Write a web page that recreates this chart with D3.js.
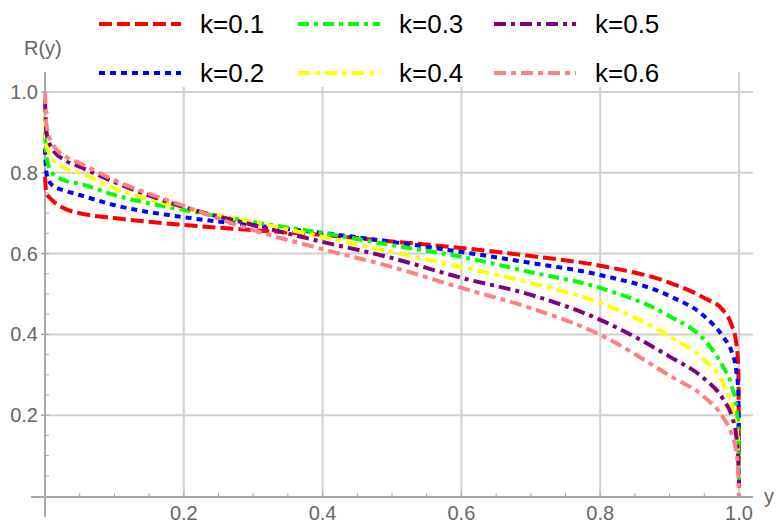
<!DOCTYPE html>
<html lang="en">
<head>
<meta charset="utf-8">
<title>R(y) curves</title>
<script src="https://d3js.org/d3.v7.min.js"></script>
<style>
  body { margin: 0; background: #fff; }
  text { font-family: "Liberation Sans", Arial, sans-serif; }
</style>
</head>
<body>
<div id="chart"></div>
<script>
// sample positions along y
const ys = [0, 0.002, 0.01, 0.03, 0.05, 0.1, 0.2, 0.3, 0.4, 0.5, 0.6, 0.7, 0.8, 0.9, 0.95, 0.977, 0.99, 0.996, 0.999, 1.0];

const k01 = [0.79, 0.75, 0.733, 0.71, 0.70, 0.688, 0.671, 0.658, 0.646, 0.630, 0.614, 0.594, 0.570, 0.528, 0.49, 0.46, 0.42, 0.38, 0.32, 0.04];
const k02 = [0.86, 0.80, 0.77, 0.755, 0.745, 0.72, 0.69, 0.67, 0.651, 0.629, 0.604, 0.577, 0.547, 0.495, 0.445, 0.394, 0.354, 0.312, 0.26, 0.03];
const k03 = [0.90, 0.84, 0.80, 0.78, 0.773, 0.745, 0.708, 0.678, 0.651, 0.621, 0.592, 0.554, 0.515, 0.445, 0.386, 0.32, 0.27, 0.22, 0.16, 0.02];
const k04 = [0.94, 0.87, 0.837, 0.81, 0.80, 0.762, 0.713, 0.678, 0.641, 0.604, 0.567, 0.527, 0.478, 0.395, 0.337, 0.28, 0.22, 0.17, 0.12, 0.02];
const k05 = [0.98, 0.90, 0.861, 0.83, 0.815, 0.777, 0.715, 0.671, 0.629, 0.589, 0.540, 0.498, 0.436, 0.345, 0.29, 0.24, 0.195, 0.15, 0.09, 0.02];
const k06 = [1.0, 0.92, 0.874, 0.84, 0.824, 0.782, 0.718, 0.658, 0.611, 0.567, 0.515, 0.465, 0.399, 0.298, 0.245, 0.195, 0.15, 0.11, 0.06, 0.0];

const labels = ["k=0.1", "k=0.2", "k=0.3", "k=0.4", "k=0.5", "k=0.6"];
const seriesValues = [k01, k02, k03, k04, k05, k06];
const colors = ["#ff0000", "#0000ff", "#00ff00", "#ffff00", "#800080", "#ff8080"];
const dashes = ["13,5", "6,5", "11,5,4,5", "12,5,5,5", "12,5,4,5", "12,5,5,5"];

const xTicks = [0.2, 0.4, 0.6, 0.8, 1.0];
const yTicks = [0.2, 0.4, 0.6, 0.8, 1.0];

const W = 777, H = 524;
const svg = d3.select("#chart").append("svg")
  .attr("width", W).attr("height", H);

const x = d3.scaleLinear().domain([0, 1]).range([45, 739]);
const y = d3.scaleLinear().domain([0, 1]).range([496, 92]);

const gridColor = "#cfcfcf", axisColor = "#a8a8a8", labelColor = "#666";

// grid lines
svg.append("g").selectAll("line")
  .data(xTicks).join("line")
    .attr("x1", d => x(d)).attr("x2", d => x(d))
    .attr("y1", 72).attr("y2", 497)
    .attr("stroke", gridColor).attr("stroke-width", 2);
svg.append("g").selectAll("line")
  .data(yTicks).join("line")
    .attr("x1", x(0)).attr("x2", 753)
    .attr("y1", d => y(d)).attr("y2", d => y(d))
    .attr("stroke", gridColor).attr("stroke-width", 2);

// axes
svg.append("line")
  .attr("x1", 31).attr("x2", 753).attr("y1", 497).attr("y2", 497)
  .attr("stroke", axisColor).attr("stroke-width", 2);
svg.append("line")
  .attr("x1", 45).attr("x2", 45).attr("y1", 72).attr("y2", 517)
  .attr("stroke", axisColor).attr("stroke-width", 2);

// minor ticks
const minor = d3.range(1, 20).map(i => i * 0.05);
svg.append("g").selectAll("line")
  .data(minor).join("line")
    .attr("x1", d => x(d)).attr("x2", d => x(d))
    .attr("y1", 493).attr("y2", 497)
    .attr("stroke", axisColor).attr("stroke-width", 1);
svg.append("g").selectAll("line")
  .data(minor).join("line")
    .attr("x1", 45).attr("x2", 49)
    .attr("y1", d => y(d)).attr("y2", d => y(d))
    .attr("stroke", axisColor).attr("stroke-width", 1);
svg.append("g").selectAll("line")
  .data(yTicks).join("line")
    .attr("x1", 41).attr("x2", 45)
    .attr("y1", d => y(d)).attr("y2", d => y(d))
    .attr("stroke", axisColor).attr("stroke-width", 1.5);

// tick labels
svg.append("g").selectAll("text")
  .data(yTicks).join("text")
    .attr("x", 38).attr("y", d => y(d) + 7)
    .attr("text-anchor", "end")
    .attr("font-size", 20).attr("fill", labelColor)
    .text(d => d.toFixed(1));
svg.append("g").selectAll("text")
  .data(xTicks).join("text")
    .attr("x", d => x(d)).attr("y", 520)
    .attr("text-anchor", "middle")
    .attr("font-size", 20).attr("fill", labelColor)
    .text(d => d.toFixed(1));

svg.append("text").attr("x", 24).attr("y", 55)
  .attr("font-size", 20).attr("fill", labelColor).text("R(y)");
svg.append("text").attr("x", 764).attr("y", 503)
  .attr("font-size", 20).attr("fill", labelColor).text("y");

// curves
const line = d3.line()
  .x(d => x(d[0])).y(d => y(d[1]))
  .curve(d3.curveMonotoneX);

svg.append("g").selectAll("path")
  .data(seriesValues).join("path")
    .attr("d", vals => line(ys.map((v, i) => [v, vals[i]])))
    .attr("fill", "none")
    .attr("stroke", (d, i) => colors[i])
    .attr("stroke-width", 4)
    .attr("stroke-dasharray", (d, i) => dashes[i]);

// legend
svg.append("rect").attr("x", 62).attr("y", 0).attr("width", 640).attr("height", 87)
  .attr("fill", "#fff");

const legX = [99, 298, 494];
const legY = [24, 73];
const leg = svg.append("g").selectAll("g")
  .data(labels).join("g")
    .attr("transform", (d, i) => `translate(${legX[Math.floor(i / 2)]},${legY[i % 2]})`);
leg.append("line")
  .attr("x1", 0).attr("x2", 82).attr("y1", 0).attr("y2", 0)
  .attr("stroke", (d, i) => colors[i])
  .attr("stroke-width", 4)
  .attr("stroke-dasharray", (d, i) => dashes[i]);
leg.append("text")
  .attr("x", 101).attr("y", 9)
  .attr("font-size", 26).attr("fill", "#000")
  .text(d => d);
</script>
</body>
</html>
